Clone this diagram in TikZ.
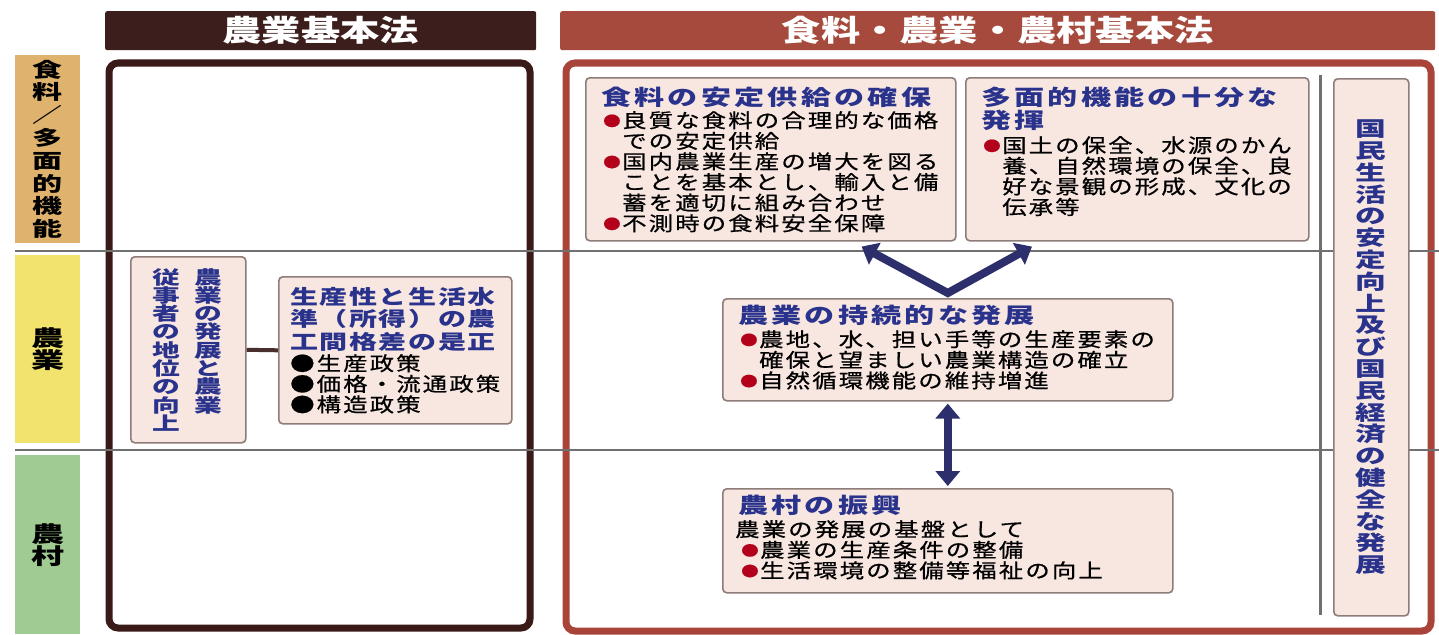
\documentclass[tikz,border=0pt]{standalone}
\usepackage{fontspec}
\setmainfont{Noto Sans CJK JP}[FakeStretch=1.25, LetterSpace=11, FakeBold=0.7]
\newfontfamily\ttlfam{Noto Sans CJK JP}[FakeStretch=1.4, LetterSpace=15]
\newfontfamily\ttlnarrow{Noto Sans CJK JP}[FakeStretch=1.4, LetterSpace=8]
\newfontfamily\hdrfam{Noto Sans CJK JP}[FakeStretch=1.33]
\newfontfamily\tatefam{Noto Sans CJK JP}[FakeStretch=1.5]
\usetikzlibrary{arrows.meta,positioning}
\lineskiplimit=-30pt

\definecolor{hdrdark}{HTML}{3C1E1C}
\definecolor{hdrred}{HTML}{A54A3C}
\definecolor{framedark}{HTML}{3A1A18}
\definecolor{framered}{HTML}{A8443A}
\definecolor{cattan}{HTML}{DFB36E}
\definecolor{catyel}{HTML}{F1E36E}
\definecolor{catgrn}{HTML}{A0CC94}
\definecolor{boxfill}{HTML}{F8E6E1}
\definecolor{boxline}{HTML}{8E7C7A}
\definecolor{navy}{HTML}{2A338C}
\definecolor{dotred}{HTML}{B3001B}
\definecolor{arrownavy}{HTML}{2C2F6C}
\definecolor{sepgray}{HTML}{707070}

\newcommand{\txtfont}{\fontsize{19.5pt}{20.6pt}\selectfont}
\newcommand{\ttlfont}{\ttlfam\bfseries\fontsize{21.5pt}{23pt}\selectfont}
\newcommand{\hdrfont}{\hdrfam\bfseries\fontsize{29.5pt}{31pt}\selectfont}
\newcommand{\tatefont}{\tatefam\bfseries\fontsize{20.5pt}{21.8pt}\selectfont}
\newcommand{\catfont}{\tatefam\bfseries\fontsize{22pt}{22pt}\selectfont}
\newcommand{\devfont}{\tatefam\bfseries\fontsize{18.5pt}{18.3pt}\selectfont}
\newcommand{\rbul}{\makebox[19pt][l]{\raisebox{1.5pt}{\fontsize{14pt}{14pt}\selectfont\textcolor{dotred}{●}}}}
\newcommand{\rind}{\hspace*{19pt}}

\tikzset{
  hdr/.style={rounded corners=2pt, inner sep=0pt, text=white, font=\hdrfont, anchor=north west},
  cat/.style={inner sep=0pt, anchor=north west, align=center, minimum width=65pt, font=\catfont},
  panel/.style={draw=boxline, fill=boxfill, line width=1.6pt, rounded corners=4pt, inner sep=0pt, anchor=north west},
  ttl/.style={inner sep=0pt, anchor=north west, align=left, text=navy, font=\ttlfont},
  txt/.style={inner sep=0pt, anchor=north west, align=left, font=\txtfont},
  tate/.style={inner sep=0pt, align=center, font=\tatefont},
  bigarrow/.style={draw=arrownavy, line width=8pt, line join=miter,
    {Triangle[width=24pt,length=15pt]}-{Triangle[width=24pt,length=15pt]}},
}

\begin{document}
\begin{tikzpicture}[x=1pt, y=-1pt]
    \useasboundingbox (0,0) rectangle (1439,634);
    \fill[white] (0,0) rectangle (1439,634);

    % Row labels
    \node [cat, fill=cattan, minimum height=188pt, font=\tatefam\bfseries\fontsize{20pt}{22.8pt}\selectfont]
        (rowfood) at (15,55) {食\\料\\／\\多\\面\\的\\機\\能};
    \node [cat, fill=catyel, minimum height=188pt] (rowfarm) at (15,255) {農\\業};
    \node [cat, fill=catgrn, minimum height=179pt] (rowvill) at (15,455) {農\\村};

    % Frames
    \draw [framedark, line width=7pt, rounded corners=9pt] (109,63) rectangle (530,628);
    \draw [framered, line width=7pt, rounded corners=9pt] (566,63) rectangle (1431,631);

    % Row separators
    \draw [sepgray, line width=2pt] (15,251) -- (1439,251);
    \draw [sepgray, line width=2pt] (15,450) -- (1439,450);
    \draw [sepgray, line width=3pt] (1320,75) -- (1320,615);

    % Headers
    \node [hdr, fill=hdrdark, minimum width=431pt, minimum height=39pt] (oldlaw) at (105,11) {農業基本法};
    \node [hdr, fill=hdrred, minimum width=875pt, minimum height=39pt] (newlaw) at (560,11) {食料・農業・農村基本法};

    % Old law
    \node [panel, minimum width=115pt, minimum height=186pt] (dev) at (130,256) {};
    \node [tate, text=navy, anchor=north, font=\devfont]
        (devA) at ([shift={(78,12)}]dev.north west) {農\\業\\の\\発\\展\\と\\農\\業};
    \node [tate, text=navy, anchor=north, font=\devfont]
        (devB) at ([shift={(36,12)}]dev.north west) {従\\事\\者\\の\\地\\位\\の\\向\\上};
    \node [panel, minimum width=233pt, minimum height=147pt] (prod) at (278,276) {};
    \node [ttl, font=\ttlnarrow\bfseries\fontsize{20pt}{22.5pt}\selectfont]
        (prodttl) at ([shift={(12,11)}]prod.north west) {生産性と生活水\\準（所得）の農\\工間格差の是正};
    \node [txt] (prodtxt) at ([shift={(12,78)}]prod.north west) {●生産政策\\●価格・流通政策\\●構造政策};

    % New law
    \node [panel, minimum width=370pt, minimum height=163pt] (food) at (585,77) {};
    \node [ttl] (foodttl) at ([shift={(16,10)}]food.north west) {食料の安定供給の確保};
    \node [txt] (foodtxt) at ([shift={(18,34)}]food.north west)
        {\rbul 良質な食料の合理的な価格\\\rind での安定供給\\\rbul 国内農業生産の増大を図る\\\rind ことを基本とし、輸入と備\\\rind 蓄を適切に組み合わせ\\\rbul 不測時の食料安全保障};

    \node [panel, minimum width=343pt, minimum height=163pt] (multi) at (965,77) {};
    \node [ttl] (multittl) at ([shift={(16,10)}]multi.north west) {多面的機能の十分な\\発揮};
    \node [txt] (multitxt) at ([shift={(18,59)}]multi.north west)
        {\rbul 国土の保全、水源のかん\\\rind 養、自然環境の保全、良\\\rind 好な景観の形成、文化の\\\rind 伝承等};

    \node [panel, minimum width=450pt, minimum height=102pt] (sus) at (722,298) {};
    \node [ttl] (susttl) at ([shift={(16,7)}]sus.north west) {農業の持続的な発展};
    \node [txt] (sustxt) at ([shift={(18,32)}]sus.north west)
        {\rbul 農地、水、担い手等の生産要素の\\\rind 確保と望ましい農業構造の確立\\\rbul 自然循環機能の維持増進};

    \node [panel, minimum width=450pt, minimum height=104pt] (rural) at (722,488) {};
    \node [ttl] (rurttl) at ([shift={(16,7)}]rural.north west) {農村の振興};
    \node [txt] (rurtxt) at ([shift={(13,32)}]rural.north west)
        {農業の発展の基盤として\\\hspace*{6pt}\rbul 農業の生産条件の整備\\\hspace*{6pt}\rbul 生活環境の整備等福祉の向上};

    \node [panel, tate, text=navy, minimum width=75pt, minimum height=537pt] (nation) at (1333,78)
        {国\\民\\生\\活\\の\\安\\定\\向\\上\\及\\び\\国\\民\\経\\済\\の\\健\\全\\な\\発\\展};

    % Links
    \draw [framedark!80!gray, line width=4pt] (dev.east) -- (prod.west);
    \draw [bigarrow] ([shift={(-95,5)}]food.south east) -- ([yshift=5pt]sus.north)
        -- ([shift={(67,5)}]multi.south west);
    \draw [bigarrow, shorten >=2pt, shorten <=2pt] (sus.south) -- (rural.north);

\end{tikzpicture}
\end{document}
